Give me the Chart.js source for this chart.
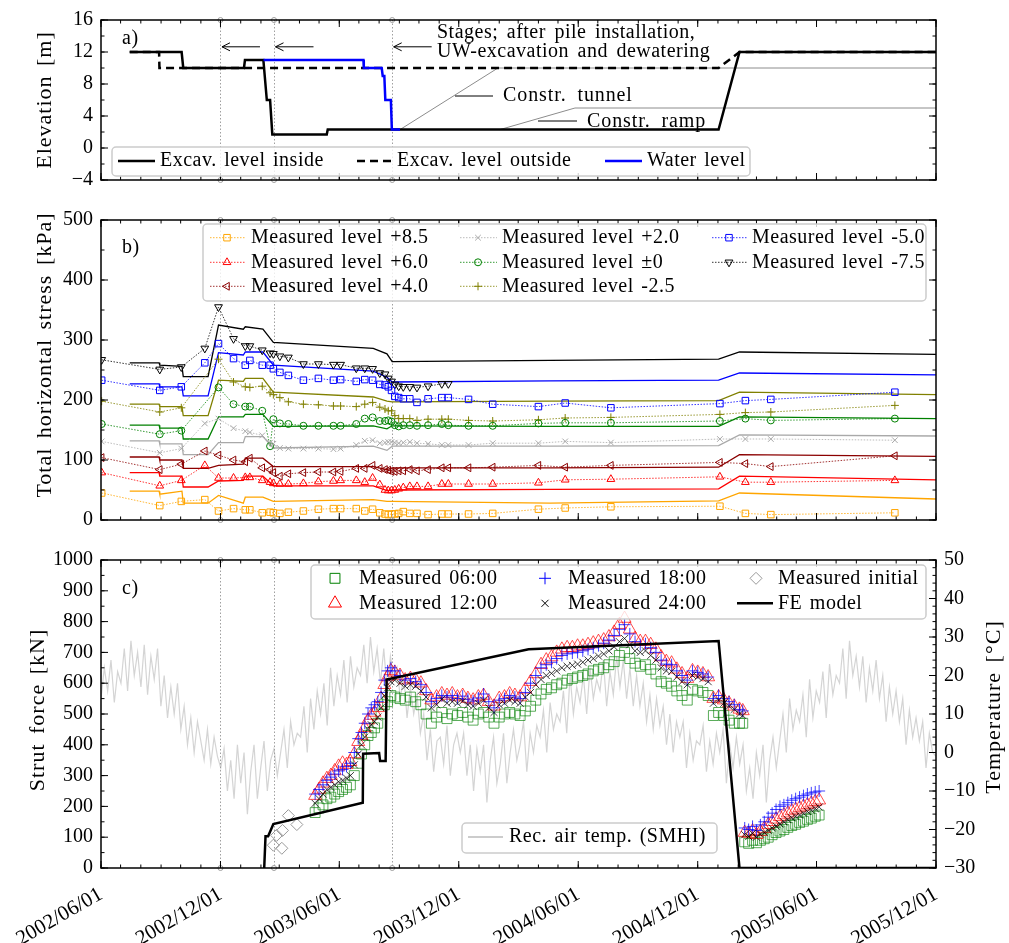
<!DOCTYPE html>
<html>
<head>
<meta charset="utf-8">
<title>Elevation, horizontal stress and strut force</title>
<script src="https://cdn.jsdelivr.net/npm/chart.js@4.4.1/dist/chart.umd.min.js"></script>
<style>
  html, body { margin: 0; padding: 0; background: #fff; }
  #wrap { position: relative; width: 1009px; height: 943px; }
  canvas { position: absolute; left: 0; }
</style>
</head>
<body>
<div id="wrap">
  <canvas id="panelA" style="top:0px" width="1009" height="200"></canvas>
  <canvas id="panelB" style="top:200px" width="1009" height="340"></canvas>
  <canvas id="panelC" style="top:540px" width="1009" height="403"></canvas>
</div>
<script>
// x values are days after 2002/06/01
const tickLabels = ['2002/06/01', '2002/12/01', '2003/06/01', '2003/12/01', '2004/06/01', '2004/12/01', '2005/06/01', '2005/12/01'];
const stageDays = [183, 265, 446];

// a) elevations [m]
const insideDays  = [44, 123.5, 126, 219, 220.5, 248.7, 254, 259, 262.4, 345.8, 347.3, 946, 978, 1279];
const insideLevel = [12, 12, 10, 10, 11, 11, 6, 6, 1.7, 1.7, 2.3, 2.3, 12, 12];
const outsideDays  = [44, 89, 89.5, 946, 978, 1279];
const outsideLevel = [12, 12, 10, 10, 12, 12];
const waterDays  = [249, 402, 402.5, 430, 431.5, 434, 435.5, 444, 445.5, 458];
const waterLevel = [11, 11, 10, 10, 9, 9, 6, 6, 2.3, 2.3];
const tunnelDays  = [458, 608, 1279];
const tunnelLevel = [2.3, 10, 10];
const rampDays  = [611, 726, 1279];
const rampLevel = [2.3, 5, 5];

// b) total horizontal stress [kPa]
const stressDays = [
  1, 90, 123, 159, 180, 203, 221, 228, 247, 259,
  264, 274, 287, 310, 333, 356, 367, 391, 404, 416,
  427, 435, 440, 445, 450, 456, 463, 473, 484, 501,
  522, 532, 563, 600, 670, 711, 781, 948, 987, 1026,
  1216];
const meas85 = [
  45, 24, 31, 34, 15, 19, 17, 17, 12, 13,
  12, 11, 13, 15, 18, 19, 19, 19, 15, 18,
  12, 10, 9, 10, 10, 11, 14, 11, 11, 9,
  10, 10, 10, 11, 18, 20, 22, 23, 11, 9,
  12];
const meas60 = [
  79, 57, 66, 91, 70, 70, 71, 71, 66, 63,
  61, 60, 60, 61, 64, 65, 66, 66, 63, 70,
  59, 50, 49, 49, 50, 52, 54, 56, 56, 56,
  60, 60, 60, 60, 62, 67, 68, 72, 63, 63,
  66];
const meas40 = [
  104, 84, 93, 115, 108, 100, 97, 103, 87, 84,
  79, 73, 77, 79, 80, 80, 81, 86, 86, 91,
  86, 84, 83, 81, 81, 82, 82, 84, 82, 84,
  87, 87, 87, 88, 91, 88, 91, 96, 94, 89,
  107];
const meas20 = [
  131, 112, 119, 161, 169, 153, 148, 146, 141, 129,
  127, 120, 119, 119, 119, 118, 119, 125, 132, 133,
  128, 129, 130, 130, 129, 128, 129, 130, 128, 127,
  125, 125, 125, 128, 128, 131, 129, 135, 135, 135,
  133];
const meas00 = [
  160, 143, 149, null, 221, 193, 189, 189, 182, 123,
  168, 161, 160, 157, 157, 157, 157, 160, 169, 171,
  165, 165, 166, 164, 158, 156, 158, 158, 157, 158,
  160, 158, 157, 157, 161, 162, 162, 165, 169, 166,
  169];
const measM25 = [
  198, 180, 187, null, 268, 230, 222, 221, 223, 212,
  209, 204, 197, 193, 192, 190, 190, 189, 193, 196,
  188, 185, 182, 182, 174, 169, 169, 169, 166, 168,
  168, 168, 166, 165, 167, 170, 171, 176, 179, 180,
  191];
const measM50 = [
  233, 216, 222, 262, 294, 269, 258, 266, 258, 258,
  252, 246, 241, 233, 236, 233, 234, 231, 234, 233,
  226, 225, 222, 216, 206, 204, 202, 202, 196, 202,
  204, 204, 201, 193, 189, 195, 187, 194, 199, 201,
  213];
const measM75 = [
  267, 251, 255, 286, 355, 302, 290, 290, 283, 278,
  277, 273, 271, 260, 260, 259, 259, 253, 253, 252,
  245, 243, 236, 231, 226, 223, 222, 222, 221, 223,
  227, 227, null, null, null, null, null, null, null, null,
  null];
const feDays = [44, 89, 90, 124, 126, 164, 180, 218, 221, 248, 264, 417, 438, 446, 688, 946, 978, 1279];
const fe85  = [48, 48, 43, 48, 28, 28, 41, 28, 38, 38, 31, 34, 31, 31, 28, 32, 45, 35];
const fe60  = [79, 79, 73, 73, 55, 55, 65, 66, 73, 73, 57, 57, 49, 50, 51, 52, 73, 67];
const fe40  = [105, 105, 100, 100, 86, 86, 91, 93, 103, 103, 89, 89, 84, 87, 87, 88, 109, 106];
const fe20  = [132, 132, 127, 127, 109, 109, 129, 129, 139, 139, 120, 123, 116, 123, 123, 124, 142, 140];
const fe00  = [158, 158, 153, 153, 135, 135, 172, 172, 176, 176, 156, 157, 152, 157, 156, 156, 172, 169];
const feM25 = [193, 193, 189, 189, 174, 174, 233, 231, 236, 236, 213, 205, 198, 197, 198, 199, 213, 209];
const feM50 = [227, 227, 222, 222, 207, 207, 279, 275, 280, 280, 258, 248, 238, 230, 232, 233, 245, 242];
const feM75 = [262, 262, 258, 256, 239, 239, 325, 318, 322, 318, 296, 286, 277, 264, 266, 268, 280, 276];

// c) strut force [kN]
const strutDays = [
  328, 334, 340, 346, 352, 358, 364, 370, 376, 382,
  388, 394, 399, 404, 409, 414, 419, 424, 429, 434,
  439, 444, 450, 458, 466, 474, 482, 490, 498, 506,
  514, 522, 530, 538, 546, 554, 562, 570, 578, 586,
  594, 602, 610, 618, 626, 634, 642, 650, 658, 666,
  674, 682, 690, 698, 706, 714, 722, 730, 738, 746,
  754, 762, 770, 778, 786, 794, 802, 810, 818, 826,
  834, 842, 850, 858, 866, 874, 882, 890, 898, 906,
  914, 922, 930, 938, 946, 954, 962, 970, 978, 983,
  986, 992, 998, 1004, 1010, 1016, 1022, 1028, 1034, 1040,
  1046, 1052, 1058, 1064, 1070, 1076, 1082, 1088, 1094, 1100];
const strut0600 = [
  180, 195, 205, 225, 230, 240, 248, 255, 262, 270,
  300, 340, 370, 400, 430, 440, 455, 470, 500, 530,
  540, 560, 555, 550, 545, 555, 540, 530, 500, 470,
  490, 505, 485, 500, 495, 505, 490, 480, 500, 505,
  490, 470, 490, 500, 505, 500, 495, 510, 525, 545,
  565, 580, 585, 595, 600, 610, 615, 620, 625, 630,
  640, 645, 650, 660, 670, 690, 700, 680, 665, 655,
  660, 645, 630, 605, 600, 590, 575, 560, 545, 580,
  575, 570, 560, 495, 505, 495, 480, 470, 470, 470,
  85, 80, 90, 82, 90, 95, 100, 108, 115, 120,
  125, 132, 138, 142, 148, 152, 158, 162, 168, 172];
const strut1200 = [
  235, 255, 275, 290, 300, 315, 330, 340, 335, 345,
  370, 410, 430, 455, 480, 495, 505, 520, 550, 595,
  620, 640, 635, 625, 610, 615, 610, 600, 575, 545,
  555, 565, 560, 565, 555, 560, 550, 545, 555, 560,
  540, 525, 550, 555, 565, 560, 555, 580, 605, 630,
  660, 675, 685, 700, 710, 715, 715, 720, 720, 725,
  730, 735, 740, 750, 765, 790, 810, 775, 745, 735,
  735, 725, 710, 685, 670, 665, 645, 630, 615, 640,
  635, 630, 620, 550, 555, 545, 535, 525, 515, 510,
  115, 112, 120, 108, 118, 128, 140, 150, 158, 166,
  172, 178, 185, 190, 195, 200, 205, 210, 215, 220];
const strut1800 = [
  240, 255, 270, 285, 295, 305, 315, 320, 330, 340,
  375, 420, 440, 470, 500, 520, 530, 540, 570, 610,
  640, 650, 640, 625, 610, 615, 605, 595, 570, 540,
  550, 560, 555, 560, 550, 558, 548, 542, 552, 565,
  540, 520, 545, 550, 560, 555, 550, 570, 600, 625,
  650, 660, 668, 680, 690, 695, 698, 700, 705, 710,
  715, 722, 730, 740, 755, 775, 790, 760, 735, 725,
  728, 715, 700, 675, 662, 660, 640, 625, 610, 640,
  635, 630, 620, 550, 560, 550, 540, 530, 515, 510,
  130, 125, 135, 122, 140, 150, 165, 178, 190, 200,
  205, 212, 220, 225, 230, 235, 240, 244, 247, 250];
const strut2400 = [
  210, 225, 240, 255, 262, 270, 280, 285, 292, 300,
  335, 370, 400, 425, 450, 465, 475, 490, 520, 560,
  585, 605, 610, 600, 590, 595, 590, 575, 555, 520,
  530, 548, 535, 540, 535, 542, 530, 525, 535, 545,
  520, 505, 530, 535, 545, 540, 535, 555, 570, 595,
  612, 625, 632, 640, 650, 655, 658, 662, 668, 675,
  680, 688, 695, 705, 718, 735, 745, 725, 705, 700,
  705, 690, 675, 650, 640, 638, 620, 605, 595, 625,
  620, 615, 605, 535, 545, 535, 525, 515, 500, 495,
  108, 102, 112, 100, 110, 115, 122, 130, 136, 143,
  150, 157, 163, 168, 172, 178, 184, 188, 193, 198];
const initialDays  = [264, 269, 277, 278, 287, 300];
const initialForce = [74, 106, 64, 122, 170, 141];
const feStrutDays  = [250, 252, 256, 264, 401, 401.5, 426, 427.5, 436, 437.5, 655, 946, 978, 1279];
const feStrutForce = [0, 103, 103, 143, 212, 371, 373, 347, 347, 612, 710, 737, 0, 0];
// recorded air temperature [°C], six readings per month from 2002/06 to 2005/11
const airTemp = [
  14, 22, 16, 24, 13, 21,  18, 27, 16, 29, 20, 26,  17, 28, 15, 25, 19, 27,
  12, 20, 9, 17, 10, 18,   6, 12, 2, 9, 0, 8,      3, -2, 6, -3, 4, -1,
  -4, 1, -10, -2, -12, 2,  -8, 0, -16, -5, 2, -12,  -4, 3, -10, -2, 1, -6,
  0, 6, -4, 8, 2, 5,       4, 12, 0, 14, 6, 16,     10, 18, 7, 22, 12, 20,
  15, 24, 13, 25, 17, 22,  20, 28, 18, 30, 21, 27,  18, 27, 16, 25, 19, 22,
  14, 20, 9, 17, 10, 15,   5, 10, -2, 6, -5, 3,     4, -3, 7, -6, 2, 5,
  0, 5, -6, 2, -10, 1,     -5, 2, -13, -2, 4, -8,   -3, 5, -8, 0, 6, -2,
  2, 8, -5, 5, 0, 7,       4, 11, 0, 13, 6, 10,     8, 16, 5, 20, 10, 17,
  13, 20, 10, 22, 14, 19,  16, 24, 12, 21, 15, 25,  17, 24, 14, 22, 12, 20,
  12, 18, 8, 15, 6, 14,    7, 12, 2, 10, 0, 8,      4, 8, -4, 5, -2, 3,
  2, 7, -5, 3, -3, 5,      0, 6, -8, 2, -4, 4,      -3, 2, -10, -4, -12, 0,
  -6, 2, -13, -2, 4, -4,   3, 10, 0, 14, 6, 11,     8, 15, 4, 19, 9, 16,
  13, 21, 9, 23, 15, 20,   18, 27, 14, 29, 20, 25,  17, 25, 13, 22, 16, 24,
  14, 20, 8, 17, 10, 16,   8, 14, 2, 11, 4, 9,      3, 8, -4, 5, 0, -1];

// ---------------------------------------------------------------
const START = new Date(2002, 5, 1);
const dayOf = (y, m) => Math.round((new Date(y, m - 1, 1) - START) / 86400000);
const tickDays = tickLabels.map(s => { const p = s.split('/').map(Number); return dayOf(p[0], p[1]); });
const monthDays = [];
for (let i = 0; i <= 42; i++) monthDays.push(dayOf(2002, 6 + i));
const tempStep = 1279 / (airTemp.length - 1);

const FAMILY = '"Liberation Serif", "Times New Roman", serif';
Chart.defaults.font.family = FAMILY;
Chart.defaults.font.size = 20;
Chart.defaults.color = '#000';
Chart.defaults.animation = false;

const pts = (xs, ys) => xs.map((x, i) => ({ x, y: ys[i] }));
const minus = v => String(v).replace('-', '\u2212');
const range = (a, b, s) => { const r = []; for (let v = a; v <= b + 1e-9; v += s) r.push(v); return r; };

function xScale(show) {
  return {
    type: 'linear', min: 0, max: 1279, display: show,
    grid: { display: false, drawTicks: false }, border: { display: false },
    afterBuildTicks: s => { s.ticks = tickDays.map(v => ({ value: v })); },
    ticks: { autoSkip: false, maxRotation: 30, minRotation: 30, padding: 14, font: { size: 21 },
             callback: (v, i) => tickLabels[i] },
    afterFit: s => { if (show) s.height = 75; }
  };
}
function yScale(min, max, step, width, pos) {
  return {
    type: 'linear', position: pos || 'left', min, max,
    grid: { display: false, drawTicks: false }, border: { display: false },
    ticks: { stepSize: step, padding: 8, callback: v => minus(v) },
    afterFit: s => { s.width = width; }
  };
}

// text with a little extra spacing, closer to the LaTeX look
function txt(ctx, s, x, y, align, size, ls, ws) {
  ctx.save();
  ctx.font = (size || 20) + 'px ' + FAMILY; ctx.fillStyle = '#000';
  ctx.letterSpacing = (ls === undefined ? 0.5 : ls) + 'px';
  ctx.wordSpacing = (ws === undefined ? 2 : ws) + 'px';
  ctx.textAlign = align || 'left'; ctx.textBaseline = 'middle';
  ctx.fillText(s, x, y);
  ctx.restore();
}
function seg(ctx, x0, y0, x1, y1) {
  ctx.beginPath(); ctx.moveTo(x0, y0); ctx.lineTo(x1, y1); ctx.stroke();
}
function box(ctx, x0, y0, x1, y1) {
  const r = 4;
  ctx.save();
  ctx.beginPath();
  ctx.moveTo(x0 + r, y0); ctx.arcTo(x1, y0, x1, y1, r); ctx.arcTo(x1, y1, x0, y1, r);
  ctx.arcTo(x0, y1, x0, y0, r); ctx.arcTo(x0, y0, x1, y0, r); ctx.closePath();
  ctx.fillStyle = 'rgba(255,255,255,0.8)'; ctx.fill();
  ctx.strokeStyle = '#cccccc'; ctx.lineWidth = 1.5; ctx.stroke();
  ctx.restore();
}
function legendItem(ctx, it) {
  ctx.save();
  ctx.strokeStyle = it.color;
  if (it.x0 !== undefined) {
    ctx.lineWidth = it.width || 1; ctx.setLineDash(it.dash || []);
    seg(ctx, it.x0, it.y, it.x1, it.y);
    ctx.setLineDash([]);
  }
  if (it.style) {
    ctx.lineWidth = 1; ctx.fillStyle = 'rgba(0,0,0,0)';
    Chart.helpers.drawPoint(ctx, { pointStyle: it.style, rotation: it.rot || 0, radius: it.r, borderWidth: 1 }, it.mx, it.y);
  }
  ctx.restore();
  txt(ctx, it.label, it.tx, it.y);
}

// frame, inward ticks, stage lines, letters, titles, legends
function decor(cfg) {
  return {
    id: 'decor' + cfg.letter,
    beforeDatasetsDraw(chart) {
      const { ctx, chartArea: a, scales: { x } } = chart;
      ctx.save();
      ctx.strokeStyle = '#a0a0a0'; ctx.lineWidth = 1; ctx.setLineDash([1.5, 2]);
      stageDays.forEach(d => {
        const p = Math.round(x.getPixelForValue(d)) + 0.5;
        seg(ctx, p, a.top, p, a.bottom);
      });
      ctx.restore();
    },
    afterDatasetsDraw(chart) {
      const { ctx, chartArea: a, scales } = chart;
      const x = scales.x, y = scales.y;
      ctx.save();
      // stage markers on the spines
      ctx.strokeStyle = '#a0a0a0'; ctx.lineWidth = 1;
      stageDays.forEach(d => {
        const p = x.getPixelForValue(d);
        [a.top, a.bottom].forEach(py => { ctx.beginPath(); ctx.arc(p, py, 2.5, 0, Math.PI * 2); ctx.stroke(); });
      });
      // ticks
      ctx.strokeStyle = '#000'; ctx.lineWidth = 1;
      const xt = (vals, len) => vals.forEach(v => {
        const p = x.getPixelForValue(v);
        seg(ctx, p, a.top, p, a.top + len); seg(ctx, p, a.bottom, p, a.bottom - len);
      });
      xt(monthDays, 3.5); xt(tickDays, 7);
      const yt = (sc, vals, len, left, right) => vals.forEach(v => {
        const p = sc.getPixelForValue(v);
        if (left) seg(ctx, a.left, p, a.left + len, p);
        if (right) seg(ctx, a.right, p, a.right - len, p);
      });
      const both = !scales.yT;
      yt(y, range(y.min, y.max, cfg.yMinor), 3.5, true, both);
      yt(y, range(y.min, y.max, cfg.yMajor), 7, true, both);
      if (scales.yT) {
        const t = scales.yT;
        yt(t, range(t.min, t.max, 2), 3.5, false, true);
        yt(t, range(t.min, t.max, 10), 7, false, true);
      }
      // frame
      ctx.lineWidth = 1.5; ctx.strokeStyle = '#000';
      ctx.strokeRect(a.left, a.top, a.right - a.left, a.bottom - a.top);
      ctx.restore();

      txt(ctx, cfg.letter, a.left + 21, a.top + (cfg.letterDy || 20));
      cfg.titles.forEach(t => {
        ctx.save(); ctx.translate(t.x, t.y); ctx.rotate(-Math.PI / 2);
        txt(ctx, t.text, 0, 0, 'center', 22, 1, 3); ctx.restore();
      });
      if (cfg.extra) cfg.extra(chart);
      (cfg.legends || []).forEach(l => {
        box(ctx, l.box[0], l.box[1], l.box[2], l.box[3]);
        l.items.forEach(it => legendItem(ctx, it));
      });
    }
  };
}

const baseOptions = (padding, scales) => ({
  responsive: false, animation: false, events: [],
  layout: { padding },
  plugins: { legend: { display: false }, tooltip: { enabled: false } },
  scales
});

// ---------------- panel a ----------------
new Chart(document.getElementById('panelA'), {
  type: 'line',
  data: { datasets: [
    { data: pts(tunnelDays, tunnelLevel), borderColor: '#8c8c8c', borderWidth: 1, pointRadius: 0, order: 5 },
    { data: pts(rampDays, rampLevel), borderColor: '#8c8c8c', borderWidth: 1, pointRadius: 0, order: 5 },
    { data: pts(outsideDays, outsideLevel), borderColor: '#000', borderWidth: 2.5, borderDash: [8, 5], pointRadius: 0, order: 3 },
    { data: pts(insideDays, insideLevel), borderColor: '#000', borderWidth: 2.5, pointRadius: 0, order: 2 },
    { data: pts(waterDays, waterLevel), borderColor: '#0000ff', borderWidth: 2.5, pointRadius: 0, order: 1 }
  ] },
  options: baseOptions({ top: 14, right: 73, bottom: 13, left: 0 }, {
    x: xScale(false), y: yScale(-4, 16, 4, 101)
  }),
  plugins: [decor({
    letter: 'a)', letterDy: 19, yMajor: 4, yMinor: 2,
    titles: [{ text: 'Elevation [m]', x: 45, y: 100 }],
    extra(chart) {
      const { ctx, scales: { x, y } } = chart;
      ctx.save();
      ctx.strokeStyle = '#000'; ctx.lineWidth = 1;
      const ay = y.getPixelForValue(12.65);
      stageDays.forEach(d => {
        const tip = x.getPixelForValue(d) + 1.5;
        seg(ctx, tip, ay, tip + 38, ay);
        seg(ctx, tip, ay, tip + 8, ay - 4); seg(ctx, tip, ay, tip + 8, ay + 4);
      });
      seg(ctx, 455, 96, 493, 96);
      seg(ctx, 538, 121, 577, 121);
      ctx.restore();
      txt(ctx, 'Stages; after pile installation,', 437, 33, 'left', 20, 0.5, 3);
      txt(ctx, 'UW-excavation and dewatering', 437, 52, 'left', 20, 0.5, 3);
      txt(ctx, 'Constr. tunnel', 503, 96, 'left', 20, 0.9, 5);
      txt(ctx, 'Constr. ramp', 587, 122, 'left', 20, 0.9, 5);
    },
    legends: [{ box: [112, 147, 750, 176], items: [
      { x0: 118, x1: 155, y: 161, color: '#000', width: 2.5, label: 'Excav. level inside', tx: 160 },
      { x0: 357, x1: 392, y: 161, color: '#000', width: 2.5, dash: [8, 5], label: 'Excav. level outside', tx: 397 },
      { x0: 605, x1: 642, y: 161, color: '#0000ff', width: 2.5, label: 'Water level', tx: 647 }
    ] }]
  })]
});

// ---------------- panel b ----------------
const stressSeries = [
  { fe: fe85,  m: meas85,  c: '#ffa500', s: 'rect',     rot: 0,   r: 4.6, name: 'Measured level +8.5' },
  { fe: fe60,  m: meas60,  c: '#ff0000', s: 'triangle', rot: 0,   r: 4.5, name: 'Measured level +6.0' },
  { fe: fe40,  m: meas40,  c: '#8b0000', s: 'triangle', rot: -90, r: 4.5, name: 'Measured level +4.0' },
  { fe: fe20,  m: meas20,  c: '#a9a9a9', s: 'crossRot', rot: 0,   r: 4,   name: 'Measured level +2.0' },
  { fe: fe00,  m: meas00,  c: '#008000', s: 'circle',   rot: 0,   r: 3.5, name: 'Measured level \u00b10' },
  { fe: feM25, m: measM25, c: '#808000', s: 'cross',    rot: 0,   r: 4,   name: 'Measured level -2.5' },
  { fe: feM50, m: measM50, c: '#0000ff', s: 'rect',     rot: 0,   r: 4.6, name: 'Measured level -5.0' },
  { fe: feM75, m: measM75, c: '#000000', s: 'triangle', rot: 180, r: 4.5, name: 'Measured level -7.5' }
];
const bDatasets = [];
stressSeries.forEach(s => {
  bDatasets.push({ data: pts(feDays, s.fe), borderColor: s.c, borderWidth: 1.3, pointRadius: 0, order: 3 });
  bDatasets.push({ data: pts(stressDays, s.m), borderColor: s.c, borderWidth: 0.8, borderDash: [1.5, 1.5],
    spanGaps: true, pointStyle: s.s, rotation: s.rot, pointRadius: s.r, pointBorderWidth: 1,
    pointBorderColor: s.c, pointBackgroundColor: 'rgba(0,0,0,0)', order: 1 });
});
const bCols = [[210, 245, 227, 251], [460, 497, 478, 502], [712, 747, 729, 752]];
const bRows = [37.7, 62.3, 86.3];
const bItems = stressSeries.map((s, i) => {
  const c = bCols[Math.floor(i / 3)], r = bRows[i % 3];
  return { x0: c[0], x1: c[1], mx: c[2], tx: c[3], y: r, color: s.c, width: 0.8, dash: [1.5, 1.5],
           style: s.s, rot: s.rot, r: s.r, label: s.name };
});
new Chart(document.getElementById('panelB'), {
  type: 'line',
  data: { datasets: bDatasets },
  options: baseOptions({ top: 14, right: 73, bottom: 12, left: 0 }, {
    x: xScale(false), y: yScale(0, 500, 100, 101)
  }),
  plugins: [decor({
    letter: 'b)', letterDy: 28, yMajor: 100, yMinor: 50,
    titles: [{ text: 'Total horizontal stress [kPa]', x: 45, y: 155 }],
    legends: [{ box: [203, 24, 926, 101], items: bItems }]
  })]
});

// ---------------- panel c ----------------
const strutSeries = [
  { v: strut0600, c: 'rgba(0,128,0,0.65)',  s: 'rect',     r: 7,   order: 6, name: 'Measured 06:00' },
  { v: strut1200, c: 'rgba(255,0,0,0.7)',   s: 'triangle', r: 7.5, order: 5, name: 'Measured 12:00' },
  { v: strut1800, c: 'rgba(0,0,255,0.75)',  s: 'cross',    r: 6,   order: 4, name: 'Measured 18:00' },
  { v: strut2400, c: 'rgba(0,0,0,0.75)',    s: 'crossRot', r: 5,   order: 3, name: 'Measured 24:00' }
];
const cDatasets = strutSeries.map(s => ({
  data: pts(strutDays, s.v), showLine: false, pointStyle: s.s, pointRadius: s.r, pointBorderWidth: 1,
  pointBorderColor: s.c, pointBackgroundColor: 'rgba(0,0,0,0)', order: s.order
}));
cDatasets.push({ data: pts(initialDays, initialForce), showLine: false, pointStyle: 'rectRot', pointRadius: 6,
  pointBorderWidth: 1, pointBorderColor: '#999', pointBackgroundColor: 'rgba(0,0,0,0)', order: 2 });
cDatasets.push({ data: pts(feStrutDays, feStrutForce), borderColor: '#000', borderWidth: 2.5, pointRadius: 0, order: 1 });
cDatasets.push({ data: airTemp.map((t, i) => ({ x: i * tempStep, y: t })), yAxisID: 'yT',
  borderColor: 'rgba(160,160,160,0.45)', borderWidth: 1.2, pointRadius: 0, order: 10 });

new Chart(document.getElementById('panelC'), {
  type: 'line',
  data: { datasets: cDatasets },
  options: baseOptions({ top: 14, right: 0, bottom: 0, left: 0 }, {
    x: xScale(true), y: yScale(0, 1000, 100, 101), yT: yScale(-30, 50, 10, 73, 'right')
  }),
  plugins: [decor({
    letter: 'c)', letterDy: 29, yMajor: 100, yMinor: 50,
    titles: [{ text: 'Strut force [kN]', x: 38, y: 170 }, { text: 'Temperature [\u00b0C]', x: 994, y: 167 }],
    legends: [
      { box: [311, 25, 926, 79], items: [
        { mx: 335, tx: 359, y: 38.3, color: 'rgb(0,128,0)', style: 'rect', r: 7, label: 'Measured 06:00' },
        { mx: 335, tx: 359, y: 63.3, color: 'rgb(255,0,0)', style: 'triangle', r: 7.5, label: 'Measured 12:00' },
        { mx: 545, tx: 568, y: 38.3, color: 'rgb(0,0,255)', style: 'cross', r: 6, label: 'Measured 18:00' },
        { mx: 545, tx: 568, y: 63.3, color: '#000', style: 'crossRot', r: 5, label: 'Measured 24:00' },
        { mx: 756, tx: 778, y: 38.3, color: '#999', style: 'rectRot', r: 6, label: 'Measured initial' },
        { x0: 737, x1: 773, tx: 778, y: 63.3, color: '#000', width: 2.5, label: 'FE model' }
      ] },
      { box: [462, 283, 717, 313], items: [
        { x0: 468, x1: 503, tx: 509, y: 297, color: '#999', width: 1, label: 'Rec. air temp. (SMHI)' }
      ] }
    ]
  })]
});
</script>
</body>
</html>
